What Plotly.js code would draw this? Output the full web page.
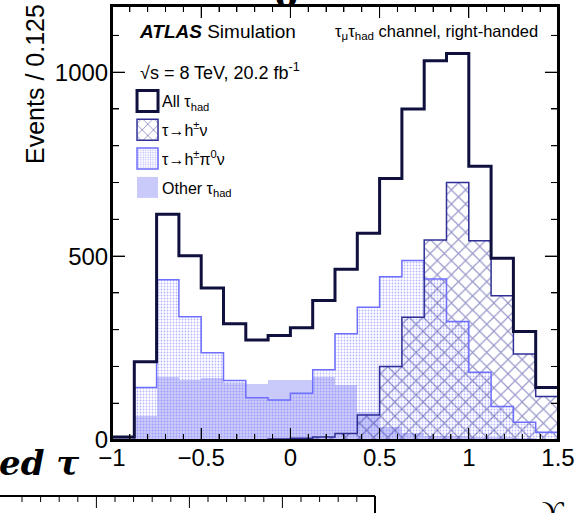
<!DOCTYPE html>
<html><head><meta charset="utf-8">
<script src="https://cdn.plot.ly/plotly-3.0.1.min.js"></script>
<style>html,body{margin:0;padding:0;background:#fff}#plot{width:576px;height:513px}</style>
</head><body><div id="plot"></div>
<script>
// Bin edges of the Upsilon distribution (bin width 0.125)
const binEdges = [-1,-0.875,-0.75,-0.625,-0.5,-0.375,-0.25,-0.125,0,0.125,0.25,0.375,0.5,0.625,0.75,0.875,1,1.125,1.25,1.375,1.5];
// Events per bin
const allTau   = [8,213,614,501,413,316,272,284,305,379,464,562,711,900,1031,1051,744,494,295,143];
const hNu      = [0,0,0,0,0,0,0,3,5,8,18,68,200,334,544,700,542,392,234,118];
const hPi0Nu   = [2,143,436,335,237,162,115,109,127,191,289,361,444,488,438,322,184,91,48,21];
const otherTau = [3,64,172,162,169,154,151,162,163,172,150,75,35,18,12,10,8,8,6,4];
const legendNames = ['All τ<sub>had</sub>','τ→h<sup>±</sup>ν','τ→h<sup>±</sup>π<sup>0</sup>ν','Other τ<sub>had</sub>'];

const X_RANGE = [-1, 1.5], Y_RANGE = [0, 1180];
const centers = binEdges.slice(0,-1).map((e,i)=>(e+binEdges[i+1])/2);
const stepY = v => v.concat([v[v.length-1]]);

const C_ALL='#10103f', C_HNU='#2f2f96', C_PI0='#6e6eff', C_PI0DOT='#7070ff', C_OTHER='#cacafa';
const FONT='Liberation Sans, Arial, Helvetica, sans-serif';
const HATCH = {shape:'x', fgcolor:C_HNU, bgcolor:'rgba(255,255,255,0)', size:10, solidity:0.22, fillmode:'overlay'};
const DOTS = {shape:'.', fgcolor:C_PI0DOT, bgcolor:'rgba(255,255,255,0)', size:3, solidity:0.3, fillmode:'overlay'};

const bar = (y, marker, name, rank) => ({type:'bar', x:centers, y:y, width:0.125, marker:marker, name:name, legendgroup:'g'+rank, legendrank:rank, showlegend:true, hoverinfo:'skip'});
const step = (y, color, w) => ({type:'scatter', mode:'lines', x:binEdges, y:stepY(y), line:{shape:'hv', color:color, width:w}, showlegend:false, hoverinfo:'skip'});

// inside tick marks on all four sides of the frame (ROOT style)
const PW = 446, PH = 434;
const yPerPx = (Y_RANGE[1]-Y_RANGE[0])/PH, xPerPx = (X_RANGE[1]-X_RANGE[0])/PW;
const tickX = [], tickY = [];
for (let i = 0; i <= 25; i++) {
  const v = X_RANGE[0] + i * 0.1, len = ((i % 5 === 0) ? 12 : 6) * yPerPx;
  tickX.push(v, v, null, v, v, null);
  tickY.push(Y_RANGE[0], Y_RANGE[0]+len, null, Y_RANGE[1], Y_RANGE[1]-len, null);
}
for (let i = 0; i <= 11; i++) {
  const v = i * 100, len = ((i % 5 === 0) ? 13 : 7) * xPerPx;
  tickX.push(X_RANGE[0], X_RANGE[0]+len, null, X_RANGE[1], X_RANGE[1]-len, null);
  tickY.push(v, v, null, v, v, null);
}

const data = [
  bar(otherTau, {color:C_OTHER, line:{width:0}}, legendNames[3], 4),
  bar(hPi0Nu, {color:'rgba(255,255,255,0)', line:{width:0}, pattern:DOTS}, legendNames[2], 3),
  step(hPi0Nu, C_PI0, 1.5),
  bar(hNu, {color:'rgba(255,255,255,0)', line:{width:0}, pattern:HATCH}, legendNames[1], 2),
  step(hNu, C_HNU, 1.5),
  bar(allTau, {color:'rgba(255,255,255,0)', line:{width:0}}, legendNames[0], 1),
  step(allTau, C_ALL, 3),
  {type:'scatter', mode:'lines', x:tickX, y:tickY, line:{color:'#000', width:1}, connectgaps:false, showlegend:false, hoverinfo:'skip', cliponaxis:false}
];

const axisCommon = {showline:true, linewidth:2, linecolor:'#000', mirror:'ticks', ticks:'inside', tickcolor:'#000', tickwidth:1, showgrid:false, zeroline:false, tickfont:{family:FONT, size:24, color:'#000'}};

// decorative fragments of neighbouring slide content (cropped)
const lowerTicks = [];
for (let i = 0; i < 20; i++) {
  const xpx = 22 + i * 18.6, major = (i % 5 === 4);
  lowerTicks.push({type:'line', xref:'paper', yref:'paper', x0:(xpx-112)/PW, x1:(xpx-112)/PW, y0:(440-496)/PH, y1:(440-(major?508:502))/PH, line:{color:'#000', width:1}});
}

const layout = {
  width:576, height:513,
  margin:{l:112, r:18, t:6, b:73, pad:0},
  paper_bgcolor:'#fff', plot_bgcolor:'#fff',
  barmode:'overlay', bargap:0,
  font:{family:FONT, color:'#000'},
  showlegend:true,
  legend:{x:0.0227, y:0.82, xanchor:'left', yanchor:'top', bgcolor:'rgba(0,0,0,0)', borderwidth:0, traceorder:'grouped', tracegroupgap:5, font:{family:FONT, size:16, color:'#000'}},
  xaxis:Object.assign({}, axisCommon, {range:X_RANGE, tick0:-1, dtick:0.5, ticklen:12, ticklabelstandoff:-5, minor:{ticks:'inside', dtick:0.1, ticklen:6, tickcolor:'#000', tickwidth:1}}),
  yaxis:Object.assign({}, axisCommon, {range:Y_RANGE, tick0:0, dtick:500, ticklen:13, ticklabelstandoff:-3, minor:{ticks:'inside', dtick:100, ticklen:7, tickcolor:'#000', tickwidth:1}}),
  shapes:[
    {type:'rect', xref:'paper', yref:'paper', x0:0, x1:1, y0:0, y1:1, line:{color:'#000', width:2}, fillcolor:'rgba(0,0,0,0)', layer:'above'},
    {type:'line', xref:'paper', yref:'paper', x0:(0-112)/PW, x1:(375-112)/PW, y0:(440-496)/PH, y1:(440-496)/PH, line:{color:'#000', width:2}},
    {type:'line', xref:'paper', yref:'paper', x0:(375-112)/PW, x1:(375-112)/PW, y0:(440-496)/PH, y1:(440-515)/PH, line:{color:'#000', width:2}}
  ].concat(lowerTicks),
  annotations:[
    {xref:'paper', yref:'paper', x:-0.173, y:0.82, xanchor:'center', yanchor:'middle', textangle:-90, text:'Events / 0.125', showarrow:false, font:{family:FONT, size:25, color:'#000'}},
    {xref:'paper', yref:'paper', x:0.055, y:0.941, xanchor:'left', yanchor:'middle', text:'<b><i>ATLAS</i></b> Simulation', showarrow:false, font:{family:FONT, size:19, color:'#000'}},
    {xref:'paper', yref:'paper', x:0.058, y:0.849, xanchor:'left', yanchor:'middle', text:'√s = 8 TeV, 20.2 fb<sup>-1</sup>', showarrow:false, font:{family:FONT, size:18, color:'#000'}},
    {xref:'paper', yref:'paper', x:0.960, y:0.941, xanchor:'right', yanchor:'middle', text:'τ<sub>μ</sub>τ<sub>had</sub> channel, right-handed', showarrow:false, font:{family:FONT, size:16.5, color:'#000'}},
    {xref:'paper', yref:'paper', x:(-3-112)/PW, y:(440-463)/PH, xanchor:'left', yanchor:'middle', text:'<b><i>ed τ</i></b>', showarrow:false, font:{family:'DejaVu Serif, serif', size:34, color:'#000'}},
    {xref:'paper', yref:'paper', x:(553-112)/PW, y:(440-510)/PH, xanchor:'center', yanchor:'middle', text:'ϒ', showarrow:false, font:{family:'Liberation Serif, serif', size:30, color:'#000'}},
    {xref:'paper', yref:'paper', x:(286-112)/PW, y:(440-(-5))/PH, xanchor:'center', yanchor:'middle', text:'<b>o</b>', showarrow:false, font:{family:'DejaVu Serif, serif', size:34, color:'#000'}}
  ]
};

// legend swatch outlines (as in the reference legend boxes)
const swatchStroke = {};
swatchStroke[legendNames[0]] = [C_ALL, 3];
swatchStroke[legendNames[1]] = [C_HNU, 1.5];
swatchStroke[legendNames[2]] = [C_PI0, 1.5];

const gd = document.getElementById('plot');
Plotly.newPlot(gd, data, layout, {staticPlot:true, displayModeBar:false}).then(() => {
  gd.querySelectorAll('.legend .traces').forEach(item => {
    const txt = item.querySelector('text.legendtext');
    const key = txt ? txt.getAttribute('data-unformatted') : '';
    item.querySelectorAll('.legendpoints path').forEach(p => {
      p.setAttribute('d', 'M15.9,10.5H-5.1V-10.5H15.9Z');
      const s = swatchStroke[key];
      if (s) { p.style.stroke = s[0]; p.style.strokeWidth = s[1] + 'px'; p.style.strokeOpacity = 1; }
      else { p.style.strokeWidth = '0px'; }
    });
  });
});
</script>
</body></html>
